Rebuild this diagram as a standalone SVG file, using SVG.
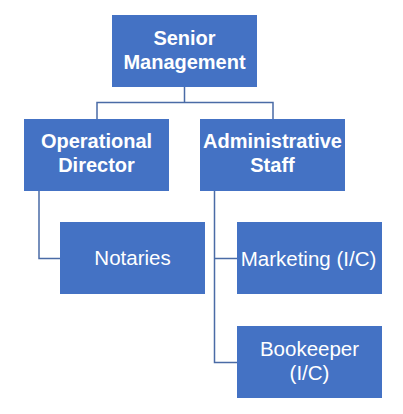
<svg xmlns="http://www.w3.org/2000/svg" width="403" height="414" viewBox="0 0 403 414">
<style>
.box{fill:#4472C4;}
.t{font-family:"Liberation Sans",Arial,sans-serif;font-size:20.5px;fill:#FFFFFF;text-anchor:middle;}
.b{font-weight:bold;font-size:20px;}
.c{fill:none;stroke:#4A6BA6;stroke-width:1.5;}
</style>
<rect width="403" height="414" fill="#FFFFFF"/>
<g id="connectors">
<path class="c" d="M184.5,87 V102.5 M97,119 V102.5 H273 V119"/>
<path class="c" d="M39,191 V258.5 H60"/>
<path class="c" d="M214.5,191 V362.5 H237 M214.5,258.5 H237"/>
</g>
<g id="senior-management">
<rect class="box" x="112" y="15" width="145" height="72"/>
<text class="t b" x="184.5" y="45">Senior</text>
<text class="t b" x="184.5" y="69">Management</text>
</g>
<g id="operational-director">
<rect class="box" x="24" y="119" width="145" height="72"/>
<text class="t b" x="96.5" y="148">Operational</text>
<text class="t b" x="96.5" y="172">Director</text>
</g>
<g id="administrative-staff">
<rect class="box" x="200" y="119" width="145" height="72"/>
<text class="t b" x="272.5" y="148">Administrative</text>
<text class="t b" x="272.5" y="172">Staff</text>
</g>
<g id="notaries">
<rect class="box" x="60" y="222" width="145" height="72"/>
<text class="t" x="132.5" y="264.5">Notaries</text>
</g>
<g id="marketing">
<rect class="box" x="237" y="222" width="145" height="72"/>
<text class="t" x="308.5" y="265.5">Marketing (I/C)</text>
</g>
<g id="bookeeper">
<rect class="box" x="237" y="326" width="145" height="72"/>
<text class="t" x="309.5" y="356">Bookeeper</text>
<text class="t" x="309.5" y="380">(I/C)</text>
</g>
</svg>
